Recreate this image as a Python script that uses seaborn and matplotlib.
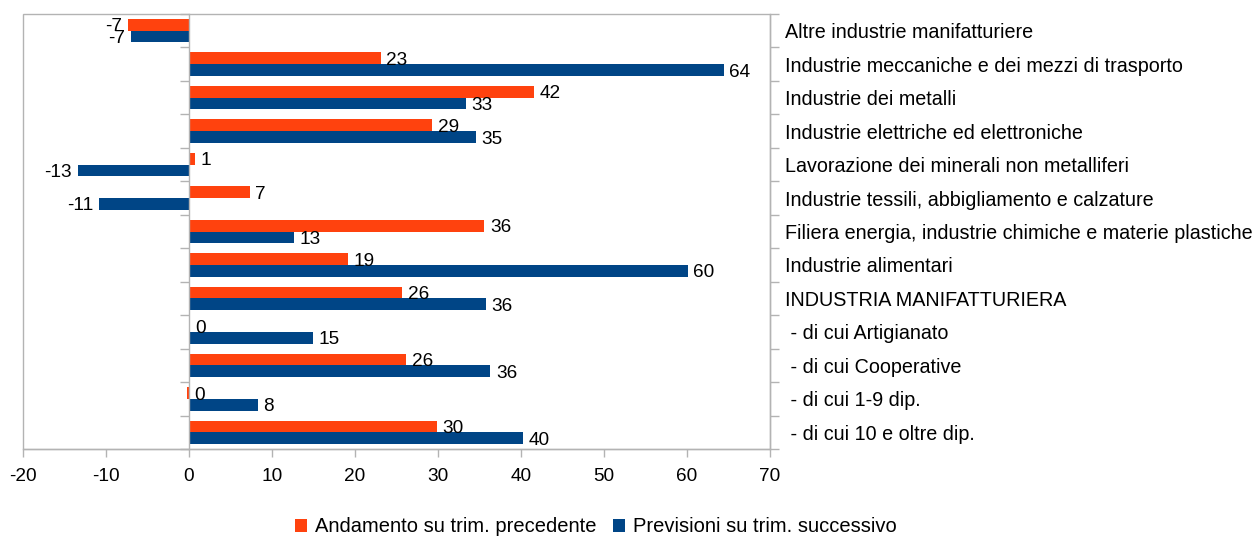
import numpy as np
import pandas as pd
import matplotlib
matplotlib.use("Agg")
import matplotlib.pyplot as plt
import seaborn as sns

settori = [
    "Altre industrie manifatturiere",
    "Industrie meccaniche e dei mezzi di trasporto",
    "Industrie dei metalli",
    "Industrie elettriche ed elettroniche",
    "Lavorazione dei minerali non metalliferi",
    "Industrie tessili, abbigliamento e calzature",
    "Filiera energia, industrie chimiche e materie plastiche",
    "Industrie alimentari",
    "INDUSTRIA MANIFATTURIERA",
    " - di cui Artigianato",
    " - di cui Cooperative",
    " - di cui 1-9 dip.",
    " - di cui 10 e oltre dip.",
]
andamento = [-7.4, 23.1, 41.6, 29.3, 0.7, 7.3, 35.6, 19.2, 25.7, 0.1, 26.2, -0.3, 29.9]
previsioni = [-7.0, 64.4, 33.4, 34.6, -13.4, -10.8, 12.6, 60.1, 35.8, 14.9, 36.3, 8.3, 40.3]
serie = ["Andamento su trim. precedente", "Previsioni su trim. successivo"]
colori = ["#FF420E", "#004586"]
x_ticks = [-20, -10, 0, 10, 20, 30, 40, 50, 60, 70]

df = pd.DataFrame({
    "settore": settori * 2,
    "valore": andamento + previsioni,
    "serie": [serie[0]] * len(settori) + [serie[1]] * len(settori),
})

sns.set_theme(style="white")
plt.rcParams["font.family"] = ["Liberation Sans", "DejaVu Sans"]
plt.rcParams["font.size"] = 13.6
plt.rcParams["text.color"] = "black"
grigio = "#b3b3b3"
fs_num = 13.7
fs_cat = 14.2
fs_leg = 14.5

fig = plt.figure(figsize=(12.58, 5.38), dpi=100)
ax = fig.add_axes([23 / 1258, 1 - 449 / 538, (770 - 23) / 1258, (449 - 14) / 538])

sns.barplot(data=df, x="valore", y="settore", hue="serie", order=settori,
            hue_order=serie, palette=colori, saturation=1, width=0.7,
            orient="h", linewidth=0, ax=ax)

ax.set_xlim(x_ticks[0], x_ticks[-1])
ax.set_xticks(x_ticks)
ax.set_xticklabels([str(t) for t in x_ticks])
ax.set_xlabel("")
ax.set_ylabel("")

# frame around the plot area
ax.patch.set_edgecolor(grigio)
ax.patch.set_linewidth(1.0)
ax.spines["top"].set_visible(False)
for s in ["bottom", "right", "left"]:
    ax.spines[s].set_color(grigio)
    ax.spines[s].set_linewidth(1.0)
# category axis crosses the value axis at zero
ax.spines["left"].set_position(("data", 0))

n = len(settori)
ax.set_yticks(np.arange(n))
ax.set_yticklabels(settori)
ax.set_yticks(np.arange(-0.5, n, 1.0), minor=True)
ax.yaxis.set_ticks_position("both")
ax.tick_params(axis="y", which="major", length=0, pad=10.5, labelleft=False,
               labelright=True, labelsize=fs_cat, colors="black")
ax.tick_params(axis="y", which="minor", length=6.5, width=1, color=grigio,
               direction="out", left=True, right=True)
ax.tick_params(axis="x", which="major", length=6, width=1, color=grigio,
               direction="out", pad=8, labelsize=fs_num, labelcolor="black", bottom=True)
for lab in ax.get_yticklabels():
    lab.set_horizontalalignment("left")

# value labels at the end of each bar
for cont, valori in zip(ax.containers, [andamento, previsioni]):
    for patch, v in zip(cont.patches, valori):
        testo = f"{round(v)}"
        yc = patch.get_y() + patch.get_height() / 2
        if round(v) < 0:
            ax.annotate(testo, (v, yc), xytext=(-4, -1.5), textcoords="offset points",
                        ha="right", va="center", fontsize=fs_num, color="black")
        else:
            ax.annotate(testo, (max(v, 0), yc), xytext=(4, -1.5), textcoords="offset points",
                        ha="left", va="center", fontsize=fs_num, color="black")

handles, labels = ax.get_legend_handles_labels()
ax.get_legend().remove()
leg = fig.legend(handles, labels, loc="center", bbox_to_anchor=(596 / 1258, 1 - 527 / 538),
                 ncol=2, frameon=False, fontsize=fs_leg, handlelength=0.6, handleheight=0.6,
                 handletextpad=0.4, columnspacing=0.8)
for t in leg.get_texts():
    t.set_color("black")

fig.savefig("out.png", dpi=100)
